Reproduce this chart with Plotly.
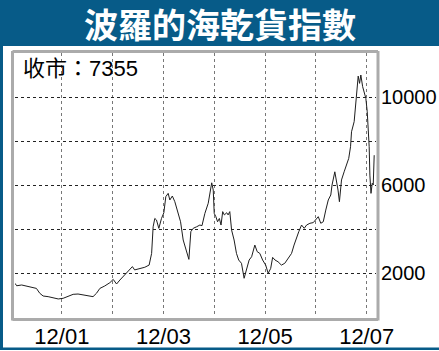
import plotly.graph_objects as go

# ---- data ----
dates = [
    "2000-12-29", "2001-01-10", "2001-02-15", "2001-03-21", "2001-04-26", "2001-06-01",
    "2001-06-25", "2001-07-19", "2001-08-24", "2001-09-29", "2001-11-05", "2001-12-10",
    "2002-01-16", "2002-02-20", "2002-03-27", "2002-05-02", "2002-06-07", "2002-07-13",
    "2002-08-07", "2002-08-31", "2002-10-05", "2002-11-11", "2002-12-05", "2002-12-29",
    "2003-01-22", "2003-02-27", "2003-03-21", "2003-04-22", "2003-05-08", "2003-06-14",
    "2003-07-20", "2003-08-20", "2003-09-07", "2003-09-18", "2003-09-30", "2003-10-12",
    "2003-10-29", "2003-11-17", "2003-12-04", "2003-12-18", "2004-01-04", "2004-01-16",
    "2004-02-03", "2004-02-21", "2004-03-15", "2004-04-02", "2004-04-21", "2004-05-15",
    "2004-06-01", "2004-06-15", "2004-07-02", "2004-07-26", "2004-08-19", "2004-09-03",
    "2004-09-24", "2004-10-18", "2004-10-30", "2004-11-12", "2004-11-23", "2004-11-30",
    "2004-12-12", "2004-12-24", "2005-01-06", "2005-01-18", "2005-01-30", "2005-02-11",
    "2005-02-28", "2005-03-10", "2005-03-22", "2005-04-04", "2005-04-22", "2005-05-09",
    "2005-05-25", "2005-06-14", "2005-07-03", "2005-07-20", "2005-08-08", "2005-08-26",
    "2005-09-06", "2005-09-18", "2005-10-05", "2005-10-24", "2005-11-13", "2005-12-05",
    "2005-12-23", "2006-01-10", "2006-01-24", "2006-02-10", "2006-03-04", "2006-03-28",
    "2006-04-21", "2006-05-15", "2006-06-09", "2006-06-27", "2006-07-15", "2006-07-31",
    "2006-08-20", "2006-09-08", "2006-09-25", "2006-10-19", "2006-11-12", "2006-12-01",
    "2006-12-18", "2007-01-05", "2007-01-23", "2007-02-10", "2007-02-28", "2007-03-18",
    "2007-03-27", "2007-04-16", "2007-04-28", "2007-05-09", "2007-05-19", "2007-06-03",
    "2007-06-22", "2007-07-09", "2007-07-25", "2007-08-07", "2007-08-14", "2007-09-02",
    "2007-09-12", "2007-09-24", "2007-10-01", "2007-10-11", "2007-10-20", "2007-11-02",
    "2007-11-13", "2007-11-25", "2007-12-05", "2007-12-12", "2007-12-19", "2007-12-24",
    "2008-01-01", "2008-01-10", "2008-01-17", "2008-01-24",
]
index_values = [
    1530, 1420, 1455, 1410, 1380, 1300,
    1080, 955, 925, 880, 820, 850,
    925, 1030, 1045, 1000, 955, 925,
    1080, 1300, 1410, 1560, 1710, 1500,
    1680, 1910, 2060, 2290, 2140, 2210,
    2260, 2360, 2890, 4100, 4480, 4410,
    4030, 4480, 4740, 5470, 5620, 5320,
    5500, 5240, 4790, 4330, 3500, 3045,
    2620, 3880, 4030, 4100, 4180, 4150,
    4710, 5170, 5620, 6100, 5770, 4710,
    4560, 4330, 4480, 4180, 4790, 4640,
    4740, 4640, 4790, 3950, 3500, 2890,
    2590, 2440, 1760, 2210, 2590, 2740,
    3045, 3270, 2970, 2890, 2590, 2360,
    1985, 2210, 2710, 2590, 2510, 2360,
    2440, 2670, 2890, 3270, 3650, 3880,
    4180, 4030, 4180, 4260, 4290, 4410,
    4560, 4260, 4330, 4860, 5320, 5545,
    6000, 6600, 6230, 5770, 5240, 6230,
    6600, 6910, 7210, 7740, 8420, 8880,
    9560, 10545, 10950, 10620, 11000, 10470,
    10170, 9940, 9330, 8650, 7740, 6450,
    5620, 6080, 6000, 7355,
]
x_tick_dates = ["2001-12-01", "2002-12-01", "2003-12-01", "2004-12-01",
                "2005-12-01", "2006-12-01", "2007-12-01"]
x_tick_labels = ["12/01", "", "12/03", "", "12/05", "", "12/07"]
y_tick_values = [0, 2000, 4000, 6000, 8000, 10000, 12000]
y_tick_labels = ["", "2000", "", "6000", "", "10000", ""]
title_text = "波羅的海乾貨指數"
close_text = "收市：7355"

# ---- layout geometry ----
W, H = 439, 351
L, R, T, B = 15, 63, 53, 34
PW, PH = W - L - R, H - T - B

def px(q):
    return (q - L) / PW

def py(p):
    return (H - B - p) / PH

BLUE = "#075b88"
GRAY = "#ababab"

fig = go.Figure()
fig.add_trace(go.Scatter(
    x=dates, y=index_values, mode="lines",
    line=dict(color="#1e1e1e", width=1), hoverinfo="skip", showlegend=False,
))

shapes = []
# blue frame pieces
shapes.append(dict(type="rect", xref="paper", yref="paper", x0=px(-2), x1=px(W + 2),
                   y0=py(46), y1=py(-2), fillcolor=BLUE, line=dict(width=0), layer="below"))
shapes.append(dict(type="rect", xref="paper", yref="paper", x0=px(-2), x1=px(3),
                   y0=py(350), y1=py(45), fillcolor=BLUE, line=dict(width=0), layer="below"))
shapes.append(dict(type="rect", xref="paper", yref="paper", x0=px(-2), x1=px(W + 2),
                   y0=py(350), y1=py(347.5), fillcolor=BLUE, line=dict(width=0), layer="below"))
# gray plot frame
for (a, b, c, d) in [(12.5, 12.5, 51, 320.5), (378, 378, 51, 320.5),
                     (12.5, 378, 51.5, 51.5), (12.5, 378, 319.5, 319.5)]:
    shapes.append(dict(type="line", xref="paper", yref="paper", x0=px(a), x1=px(b),
                       y0=py(c), y1=py(d), line=dict(color=GRAY, width=3), layer="above"))

annotations = [
    dict(text="<b>" + title_text + "</b>", xref="paper", yref="paper", x=px(219.5), y=py(24),
         xanchor="center", yanchor="middle", showarrow=False,
         font=dict(family="Noto Sans CJK TC", size=34, color="white")),
    dict(text=close_text, xref="paper", yref="paper", x=px(21), y=py(69),
         xanchor="left", yanchor="middle", showarrow=False,
         font=dict(family="Liberation Sans, Noto Sans CJK TC", size=22, color="black")),
]

fig.update_layout(
    width=W, height=H,
    margin=dict(l=L, r=R, t=T, b=B, pad=0, autoexpand=False),
    paper_bgcolor="white", plot_bgcolor="white",
    shapes=shapes, annotations=annotations,
    xaxis=dict(type="date", range=["2000-12-29", "2008-02-06"],
               tickvals=x_tick_dates, ticktext=x_tick_labels,
               showgrid=True, gridcolor="#777", griddash="dot", gridwidth=1,
               zeroline=False, showline=False, ticks="", automargin=False,
               tickfont=dict(family="Liberation Sans", size=22, color="black"),
               ticklabelstandoff=4, fixedrange=True),
    yaxis=dict(range=[0, 12000], side="right",
               tickvals=y_tick_values, ticktext=y_tick_labels,
               showgrid=True, gridcolor="#222", griddash="dot", gridwidth=1,
               zeroline=False, showline=False, ticks="", automargin=False,
               tickfont=dict(family="Liberation Sans", size=20, color="black"),
               ticklabelstandoff=4, fixedrange=True),
)

fig.write_html("out.html", config=dict(displayModeBar=False))
